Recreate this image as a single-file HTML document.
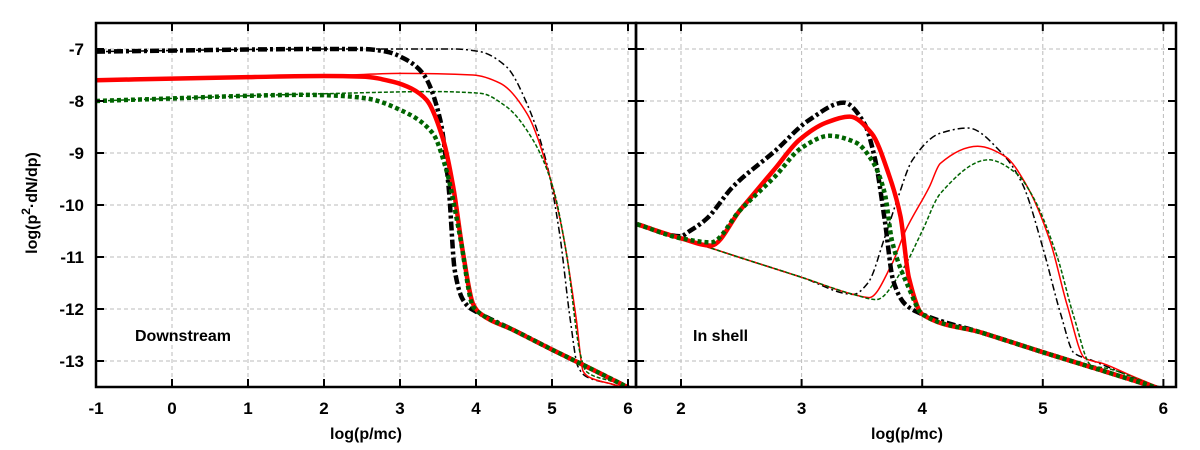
<!DOCTYPE html>
<html><head><meta charset="utf-8"><style>
body{margin:0;background:#fff}
svg{display:block;font-family:"Liberation Sans",sans-serif;font-weight:bold}
</style></head><body>
<svg id="chart" width="1200" height="450" viewBox="0 0 1200 450" xmlns="http://www.w3.org/2000/svg">
<g id="grid"></g>
<g id="series"></g>
<g id="axes"></g>
<text transform="translate(37,203) rotate(-90)" text-anchor="middle" font-size="16">log(p<tspan dy="-7" font-size="12">2</tspan><tspan dy="7">·dN/dp)</tspan></text>
<text x="366" y="439" text-anchor="middle" font-size="16">log(p/mc)</text>
<text x="907" y="439" text-anchor="middle" font-size="16">log(p/mc)</text>
<text x="135" y="341" font-size="16">Downstream</text>
<text x="693" y="341" font-size="16">In shell</text>
</svg>
<script>
const yTicks=[-7,-8,-9,-10,-11,-12,-13];
const leftXTicks=[-1,0,1,2,3,4,5,6];
const rightXTicks=[2,3,4,5,6];
const L_thickBlack_x=[-1,0,1,2,2.5,2.82,3.05,3.3,3.53,3.64,3.72,3.82,3.92,4.0,4.5,5,5.5,6.1];
const L_thickBlack_y=[-7.05,-7.03,-7.01,-7.0,-7.0,-7.05,-7.18,-7.47,-8.37,-9.65,-11.25,-11.8,-11.98,-12.05,-12.41,-12.78,-13.14,-13.58];
const L_thickRed_x=[-1,0,1,2,2.5,2.91,3.15,3.35,3.57,3.7,3.83,3.96,4.05,4.5,5,5.5,6.1];
const L_thickRed_y=[-7.6,-7.57,-7.54,-7.52,-7.53,-7.63,-7.76,-7.98,-8.75,-9.65,-10.93,-11.9,-12.08,-12.41,-12.78,-13.14,-13.58];
const L_thickGreen_x=[-1,0,1,1.7,2.2,2.56,3.0,3.43,3.61,3.79,3.96,4.05,4.5,5,5.5,6.1];
const L_thickGreen_y=[-8.0,-7.95,-7.9,-7.88,-7.9,-7.95,-8.17,-8.62,-9.33,-10.6,-11.95,-12.08,-12.41,-12.78,-13.14,-13.58];
const L_thinBlack_x=[-1,0,1,2,3,3.7,4.05,4.4,4.67,4.93,5.1,5.24,5.34,5.45,5.8,6.1];
const L_thinBlack_y=[-7.05,-7.03,-7.01,-7.0,-7.0,-7.0,-7.05,-7.34,-8.05,-9.2,-10.55,-12.2,-13.1,-13.3,-13.45,-13.6];
const L_thinRed_x=[-1,0,1,2,3,3.96,4.32,4.67,4.97,5.15,5.32,5.41,5.5,5.8,6.1];
const L_thinRed_y=[-7.6,-7.57,-7.54,-7.52,-7.47,-7.5,-7.66,-8.24,-9.45,-10.6,-12.2,-13.2,-13.32,-13.45,-13.6];
const L_thinGreen_x=[-1,0,1,2,3.43,4.05,4.4,4.75,5.01,5.19,5.37,5.45,5.8,6.1];
const L_thinGreen_y=[-8.0,-7.95,-7.9,-7.86,-7.82,-7.85,-8.11,-8.75,-9.65,-10.93,-12.85,-13.2,-13.4,-13.6];
const R_thickBlack_x=[1.635,2.0,2.06,2.21,2.43,2.78,3.06,3.35,3.52,3.61,3.69,3.76,3.86,4.0,4.5,5,5.5,6.09];
const R_thickBlack_y=[-10.37,-10.6,-10.52,-10.27,-9.65,-8.96,-8.37,-8.03,-8.43,-9.13,-10.3,-11.46,-11.91,-12.1,-12.46,-12.83,-13.19,-13.62];
const R_thickRed_x=[1.635,2.0,2.25,2.49,2.78,2.98,3.2,3.40,3.58,3.72,3.82,3.89,4.0,4.5,5,5.5,6.09];
const R_thickRed_y=[-10.37,-10.64,-10.78,-10.1,-9.3,-8.75,-8.42,-8.3,-8.62,-9.39,-10.22,-11.4,-12.1,-12.46,-12.83,-13.19,-13.62];
const R_thickGreen_x=[1.635,2.0,2.25,2.49,2.78,3.0,3.23,3.45,3.58,3.69,3.75,3.89,4.0,4.5,5,5.5,6.09];
const R_thickGreen_y=[-10.37,-10.64,-10.72,-10.1,-9.45,-8.9,-8.67,-8.8,-9.13,-9.78,-10.69,-11.6,-12.1,-12.46,-12.83,-13.19,-13.62];
const R_thinBlack_x=[1.635,2,2.5,3,3.43,3.55,3.69,3.80,3.92,4.15,4.38,4.66,4.83,5.0,5.15,5.26,5.4,5.7,6.09];
const R_thinBlack_y=[-10.37,-10.64,-11.02,-11.39,-11.72,-11.5,-10.62,-9.85,-9.13,-8.62,-8.52,-9.0,-9.59,-10.82,-12.11,-12.85,-12.98,-13.27,-13.62];
const R_thinRed_x=[1.635,2,2.5,3,3.43,3.56,3.75,3.86,4.06,4.15,4.46,4.69,4.86,5.06,5.2,5.35,5.5,5.75,6.09];
const R_thinRed_y=[-10.37,-10.64,-11.02,-11.39,-11.72,-11.78,-11.13,-10.5,-9.65,-9.2,-8.87,-9.07,-9.6,-10.69,-11.91,-12.95,-13.05,-13.3,-13.62];
const R_thinGreen_x=[1.635,2,2.5,3,3.43,3.62,3.83,4.0,4.15,4.55,4.78,4.92,5.12,5.26,5.40,5.55,5.8,6.09];
const R_thinGreen_y=[-10.37,-10.64,-11.02,-11.39,-11.72,-11.82,-11.27,-10.5,-9.78,-9.13,-9.39,-9.85,-11.0,-12.17,-13.08,-13.15,-13.36,-13.62];

const NS='http://www.w3.org/2000/svg';
const TOP=23,BOT=387;
const yScale=v=>49+(-7-v)*52;
const xL=v=>96+(v+1)*76;
const xR=v=>681+(v-2)*120.6;
const panels=[{x0:96,x1:636,sx:xL,ticks:leftXTicks,name:'left'},{x0:636,x1:1176,sx:xR,ticks:rightXTicks,name:'right'}];
function mk(tag,attrs,parent){const e=document.createElementNS(NS,tag);for(const k in attrs)e.setAttribute(k,attrs[k]);parent.appendChild(e);return e;}
const grid=document.getElementById('grid'),axes=document.getElementById('axes'),ser=document.getElementById('series');
panels.forEach(p=>{
  yTicks.forEach(t=>{
    const y=yScale(t);
    const g=mk('line',{x1:p.x0,x2:p.x1,y1:y,y2:y,stroke:'#bbb','stroke-width':1,'stroke-dasharray':'4,3'},grid);
    
    
    const a=mk('line',{x1:p.x0,x2:p.x0+8,y1:y,y2:y,stroke:'#000','stroke-width':2},axes);
    
    
    const b=mk('line',{x1:p.x1-8,x2:p.x1,y1:y,y2:y,stroke:'#000','stroke-width':2},axes);
    
    
  });
  p.ticks.forEach(t=>{
    const x=p.sx(t);
    const g=mk('line',{x1:x,x2:x,y1:TOP,y2:BOT,stroke:'#bbb','stroke-width':1,'stroke-dasharray':'4,3'},grid);
    
    
    const a=mk('line',{x1:x,x2:x,y1:BOT-8,y2:BOT,stroke:'#000','stroke-width':2},axes);
    
    
    const b=mk('line',{x1:x,x2:x,y1:TOP,y2:TOP+8,stroke:'#000','stroke-width':2},axes);
    
    
    const l=mk('text',{x:x,y:BOT+27,'text-anchor':'middle','font-size':17},axes);
    l.textContent=t;
    
    
  });
  const r=mk('rect',{x:p.x0,y:TOP,width:p.x1-p.x0,height:BOT-TOP,fill:'none',stroke:'#000','stroke-width':2.5},axes);
  
  
});
yTicks.forEach(t=>{
  const l=mk('text',{x:84,y:yScale(t)+6,'text-anchor':'end','font-size':17},axes);
  l.textContent=t;
  
  
});
function pathD(xs,ys,sx){
  const X=xs.map(sx),Y=ys.map(yScale),n=X.length;
  const d=[],m=new Array(n);
  for(let i=0;i<n-1;i++)d.push((Y[i+1]-Y[i])/(X[i+1]-X[i]));
  m[0]=d[0];m[n-1]=d[n-2];
  for(let i=1;i<n-1;i++){
    if(d[i-1]*d[i]<=0)m[i]=0;
    else{const w1=2*(X[i+1]-X[i])+(X[i]-X[i-1]),w2=(X[i+1]-X[i])+2*(X[i]-X[i-1]);m[i]=(w1+w2)/(w1/d[i-1]+w2/d[i]);}
  }
  let s='M'+X[0].toFixed(1)+','+Y[0].toFixed(1);
  for(let i=0;i<n-1;i++){
    const h=(X[i+1]-X[i])/3;
    s+='C'+(X[i]+h).toFixed(1)+','+(Y[i]+m[i]*h).toFixed(1)+' '+(X[i+1]-h).toFixed(1)+','+(Y[i+1]-m[i+1]*h).toFixed(1)+' '+X[i+1].toFixed(1)+','+Y[i+1].toFixed(1);
  }
  return s;
}
const styles={
  thickBlack:{stroke:'#000','stroke-width':4.5,'stroke-dasharray':'9,3,3,3'},
  thickRed:{stroke:'#f00','stroke-width':4.5},
  thickGreen:{stroke:'#006400','stroke-width':4.5,'stroke-dasharray':'4,3'},
  thinBlack:{stroke:'#000','stroke-width':1.5,'stroke-dasharray':'7,3,2,3'},
  thinRed:{stroke:'#f00','stroke-width':1.5},
  thinGreen:{stroke:'#006400','stroke-width':1.5,'stroke-dasharray':'4,2'}
};
const seriesList=[
 ['left-thin-black',L_thinBlack_x,L_thinBlack_y,xL,'thinBlack',0],
 ['left-thin-red',L_thinRed_x,L_thinRed_y,xL,'thinRed',0],
 ['left-thin-green',L_thinGreen_x,L_thinGreen_y,xL,'thinGreen',0],
 ['left-thick-black',L_thickBlack_x,L_thickBlack_y,xL,'thickBlack',0],
 ['left-thick-red',L_thickRed_x,L_thickRed_y,xL,'thickRed',0],
 ['left-thick-green',L_thickGreen_x,L_thickGreen_y,xL,'thickGreen',0],
 ['right-thin-black',R_thinBlack_x,R_thinBlack_y,xR,'thinBlack',1],
 ['right-thin-red',R_thinRed_x,R_thinRed_y,xR,'thinRed',1],
 ['right-thin-green',R_thinGreen_x,R_thinGreen_y,xR,'thinGreen',1],
 ['right-thick-black',R_thickBlack_x,R_thickBlack_y,xR,'thickBlack',1],
 ['right-thick-red',R_thickRed_x,R_thickRed_y,xR,'thickRed',1],
 ['right-thick-green',R_thickGreen_x,R_thickGreen_y,xR,'thickGreen',1]
];
[0,1].forEach(i=>{
  const cp=mk('clipPath',{id:'clip'+i},ser);
  mk('rect',{x:panels[i].x0,y:TOP,width:panels[i].x1-panels[i].x0,height:BOT-TOP},cp);
});
seriesList.forEach(s=>{
  const a=Object.assign({d:pathD(s[1],s[2],s[3]),fill:'none','stroke-linejoin':'round','clip-path':'url(#clip'+s[5]+')'},styles[s[4]]);
  const e=mk('path',a,ser);
  
  
});
</script>
</body></html>
